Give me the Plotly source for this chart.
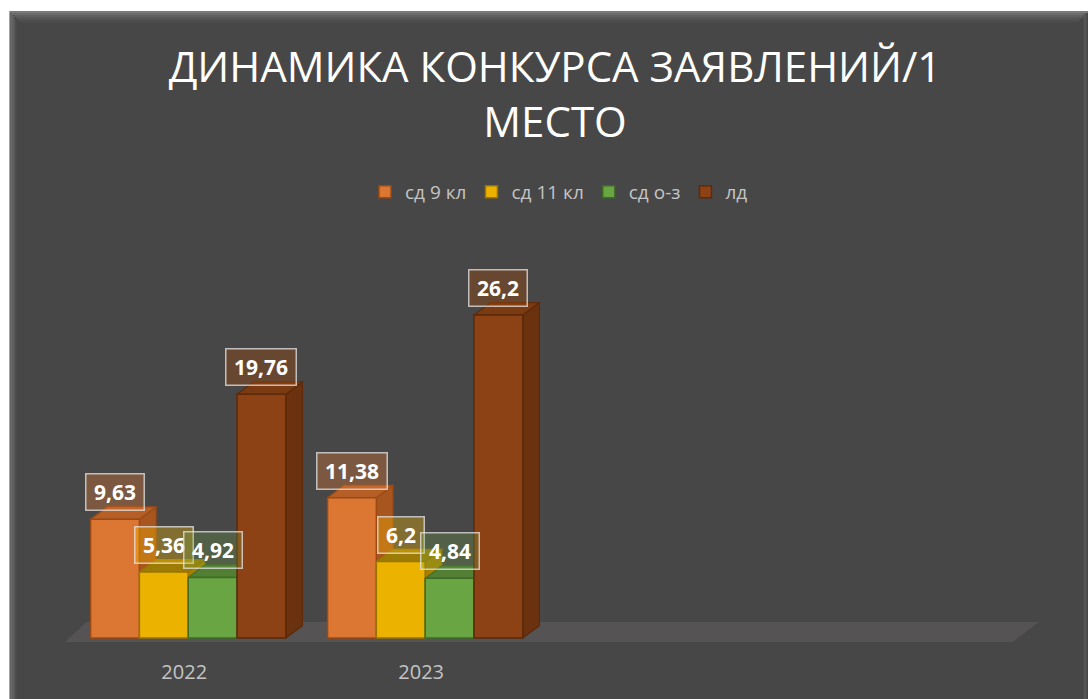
import plotly.graph_objects as go

# ---------------- data ----------------
years = ["2022", "2023"]
series_names = ["сд 9 кл", "сд 11 кл", "сд о-з", "лд"]
sd9 = [9.63, 11.38]
sd11 = [5.36, 6.2]
sd_oz = [4.92, 4.84]
ld = [19.76, 26.2]
label_texts = [["9,63", "11,38"], ["5,36", "6,2"], ["4,92", "4,84"], ["19,76", "26,2"]]

# ---------------- styles ----------------
front = ["#DB7633", "#EBB300", "#6AA543", "#8C4214"]
side = ["#A8561F", "#A88000", "#4B7A2E", "#6B3210"]
top = ["#B55F27", "#9C7C06", "#537F35", "#7A3A12"]
edge = ["#9C4A14", "#9A7400", "#3F6B26", "#5E2A0A"]
label_bg = ["rgba(237,125,49,0.32)", "rgba(255,192,0,0.32)",
            "rgba(112,173,71,0.25)", "rgba(158,72,14,0.38)"]

W, H = 1088, 699
L, R, T, B = 65, 42, 268, 56
XR = [-0.52, 3.62]
YR = [-0.4, 30]
plot_w = W - L - R
plot_h = H - T - B


def px_x(p):
    return (p - L) / plot_w


def px_y(p):
    return 1 - (p - T) / plot_h


bargap = 0.176
w = (1 - bargap) / 4
dx, dy = 0.07, 1.0

xs = [0, 1]
all_series = [sd9, sd11, sd_oz, ld]

fig = go.Figure()
for i, vals in enumerate(all_series):
    fig.add_trace(go.Bar(
        x=xs, y=vals, name=series_names[i],
        marker=dict(color=front[i], line=dict(color=edge[i], width=1.5)),
        hoverinfo="skip",
    ))

shapes = []
# floor
shapes.append(dict(type="path", xref="x", yref="y", layer="below",
                   path=f"M -0.52,-0.32 L 3.48,-0.32 L 3.59,1.3 L -0.43,1.3 Z",
                   fillcolor="#555354", line=dict(width=0)))

annotations = []
for gi, x0 in enumerate(xs):
    for i, vals in enumerate(all_series):
        v = vals[gi]
        xl = x0 + (i - 2) * w
        xr = xl + w
        # side face
        shapes.append(dict(type="path", xref="x", yref="y", layer="below",
                           path=f"M {xr},0 L {xr+dx},{dy} L {xr+dx},{v+dy} L {xr},{v} Z",
                           fillcolor=side[i], line=dict(color=edge[i], width=1.2)))
        # top face
        shapes.append(dict(type="path", xref="x", yref="y", layer="below",
                           path=f"M {xl},{v} L {xl+dx},{v+dy} L {xr+dx},{v+dy} L {xr},{v} Z",
                           fillcolor=top[i], line=dict(color=edge[i], width=1.2)))
        txt = label_texts[i][gi]
        annotations.append(dict(
            x=(xl + xr) / 2, y=v, xref="x", yref="y",
            text=f"<b>{txt}</b>", showarrow=False,
            yshift=27, yanchor="middle", xanchor="center",
            width=12 * len(txt) + 1, height=27,
            font=dict(family="Open Sans", size=21, color="white"),
            bgcolor=label_bg[i], bordercolor="rgba(230,230,230,0.75)",
            borderwidth=1.5, borderpad=4,
        ))

# white margin outside the panel (top and left)
shapes.append(dict(type="rect", xref="paper", yref="paper", layer="above",
                   x0=px_x(0), x1=px_x(W), y0=px_y(0), y1=px_y(11),
                   fillcolor="white", line=dict(width=0)))
shapes.append(dict(type="rect", xref="paper", yref="paper", layer="above",
                   x0=px_x(0), x1=px_x(9.5), y0=px_y(0), y1=px_y(H),
                   fillcolor="white", line=dict(width=0)))
# bevel on panel edges
bevel_cols = ["#7a7a7a", "#6c6c6c", "#606060", "#575757", "#505050", "#4b4b4b"]
for k, c in enumerate(bevel_cols):
    shapes.append(dict(type="line", xref="paper", yref="paper", layer="below",
                       x0=px_x(10 + 2 * k), x1=px_x(W - 2 * k), y0=px_y(12 + 2 * k), y1=px_y(12 + 2 * k),
                       line=dict(color=c, width=2)))
    shapes.append(dict(type="line", xref="paper", yref="paper", layer="below",
                       x0=px_x(11 + 1.2 * k), x1=px_x(11 + 1.2 * k), y0=px_y(12 + 2 * k), y1=px_y(H),
                       line=dict(color=c, width=1.2)))
shapes.append(dict(type="line", xref="paper", yref="paper", layer="below",
                   x0=px_x(1085), x1=px_x(1085), y0=px_y(14), y1=px_y(H),
                   line=dict(color="#555555", width=3)))

fig.update_layout(
    width=W, height=H,
    margin=dict(l=L, r=R, t=T, b=B, pad=0),
    paper_bgcolor="#474747",
    plot_bgcolor="rgba(0,0,0,0)",
    barmode="group", bargap=bargap, bargroupgap=0,
    title=dict(
        text="ДИНАМИКА КОНКУРСА ЗАЯВЛЕНИЙ/1<br>МЕСТО",
        x=555 / W, xanchor="center", xref="container",
        y=1 - 82 / H, yanchor="middle", yref="container",
        font=dict(family="Open Sans", size=42, color="white"),
    ),
    legend=dict(
        orientation="h", x=559 / W, xanchor="center", xref="container",
        y=1 - 192 / H, yanchor="middle", yref="container",
        font=dict(family="Open Sans", size=19, color="#c4c4c4"),
        bgcolor="rgba(0,0,0,0)", itemclick=False, itemdoubleclick=False,
    ),
    xaxis=dict(
        range=XR, tickvals=xs, ticktext=years, showgrid=False, zeroline=False,
        showline=False, ticks="", ticklabelstandoff=15, ticklabelshift=-4,
        tickfont=dict(family="Open Sans", size=20, color="#c4c4c4"), fixedrange=True,
    ),
    yaxis=dict(range=YR, visible=False, showgrid=False, zeroline=False, fixedrange=True),
    shapes=shapes,
    annotations=annotations,
    showlegend=True,
)

fig.write_html("out.html", config={"displayModeBar": False},
               post_script="document.body.style.margin='0px';")
